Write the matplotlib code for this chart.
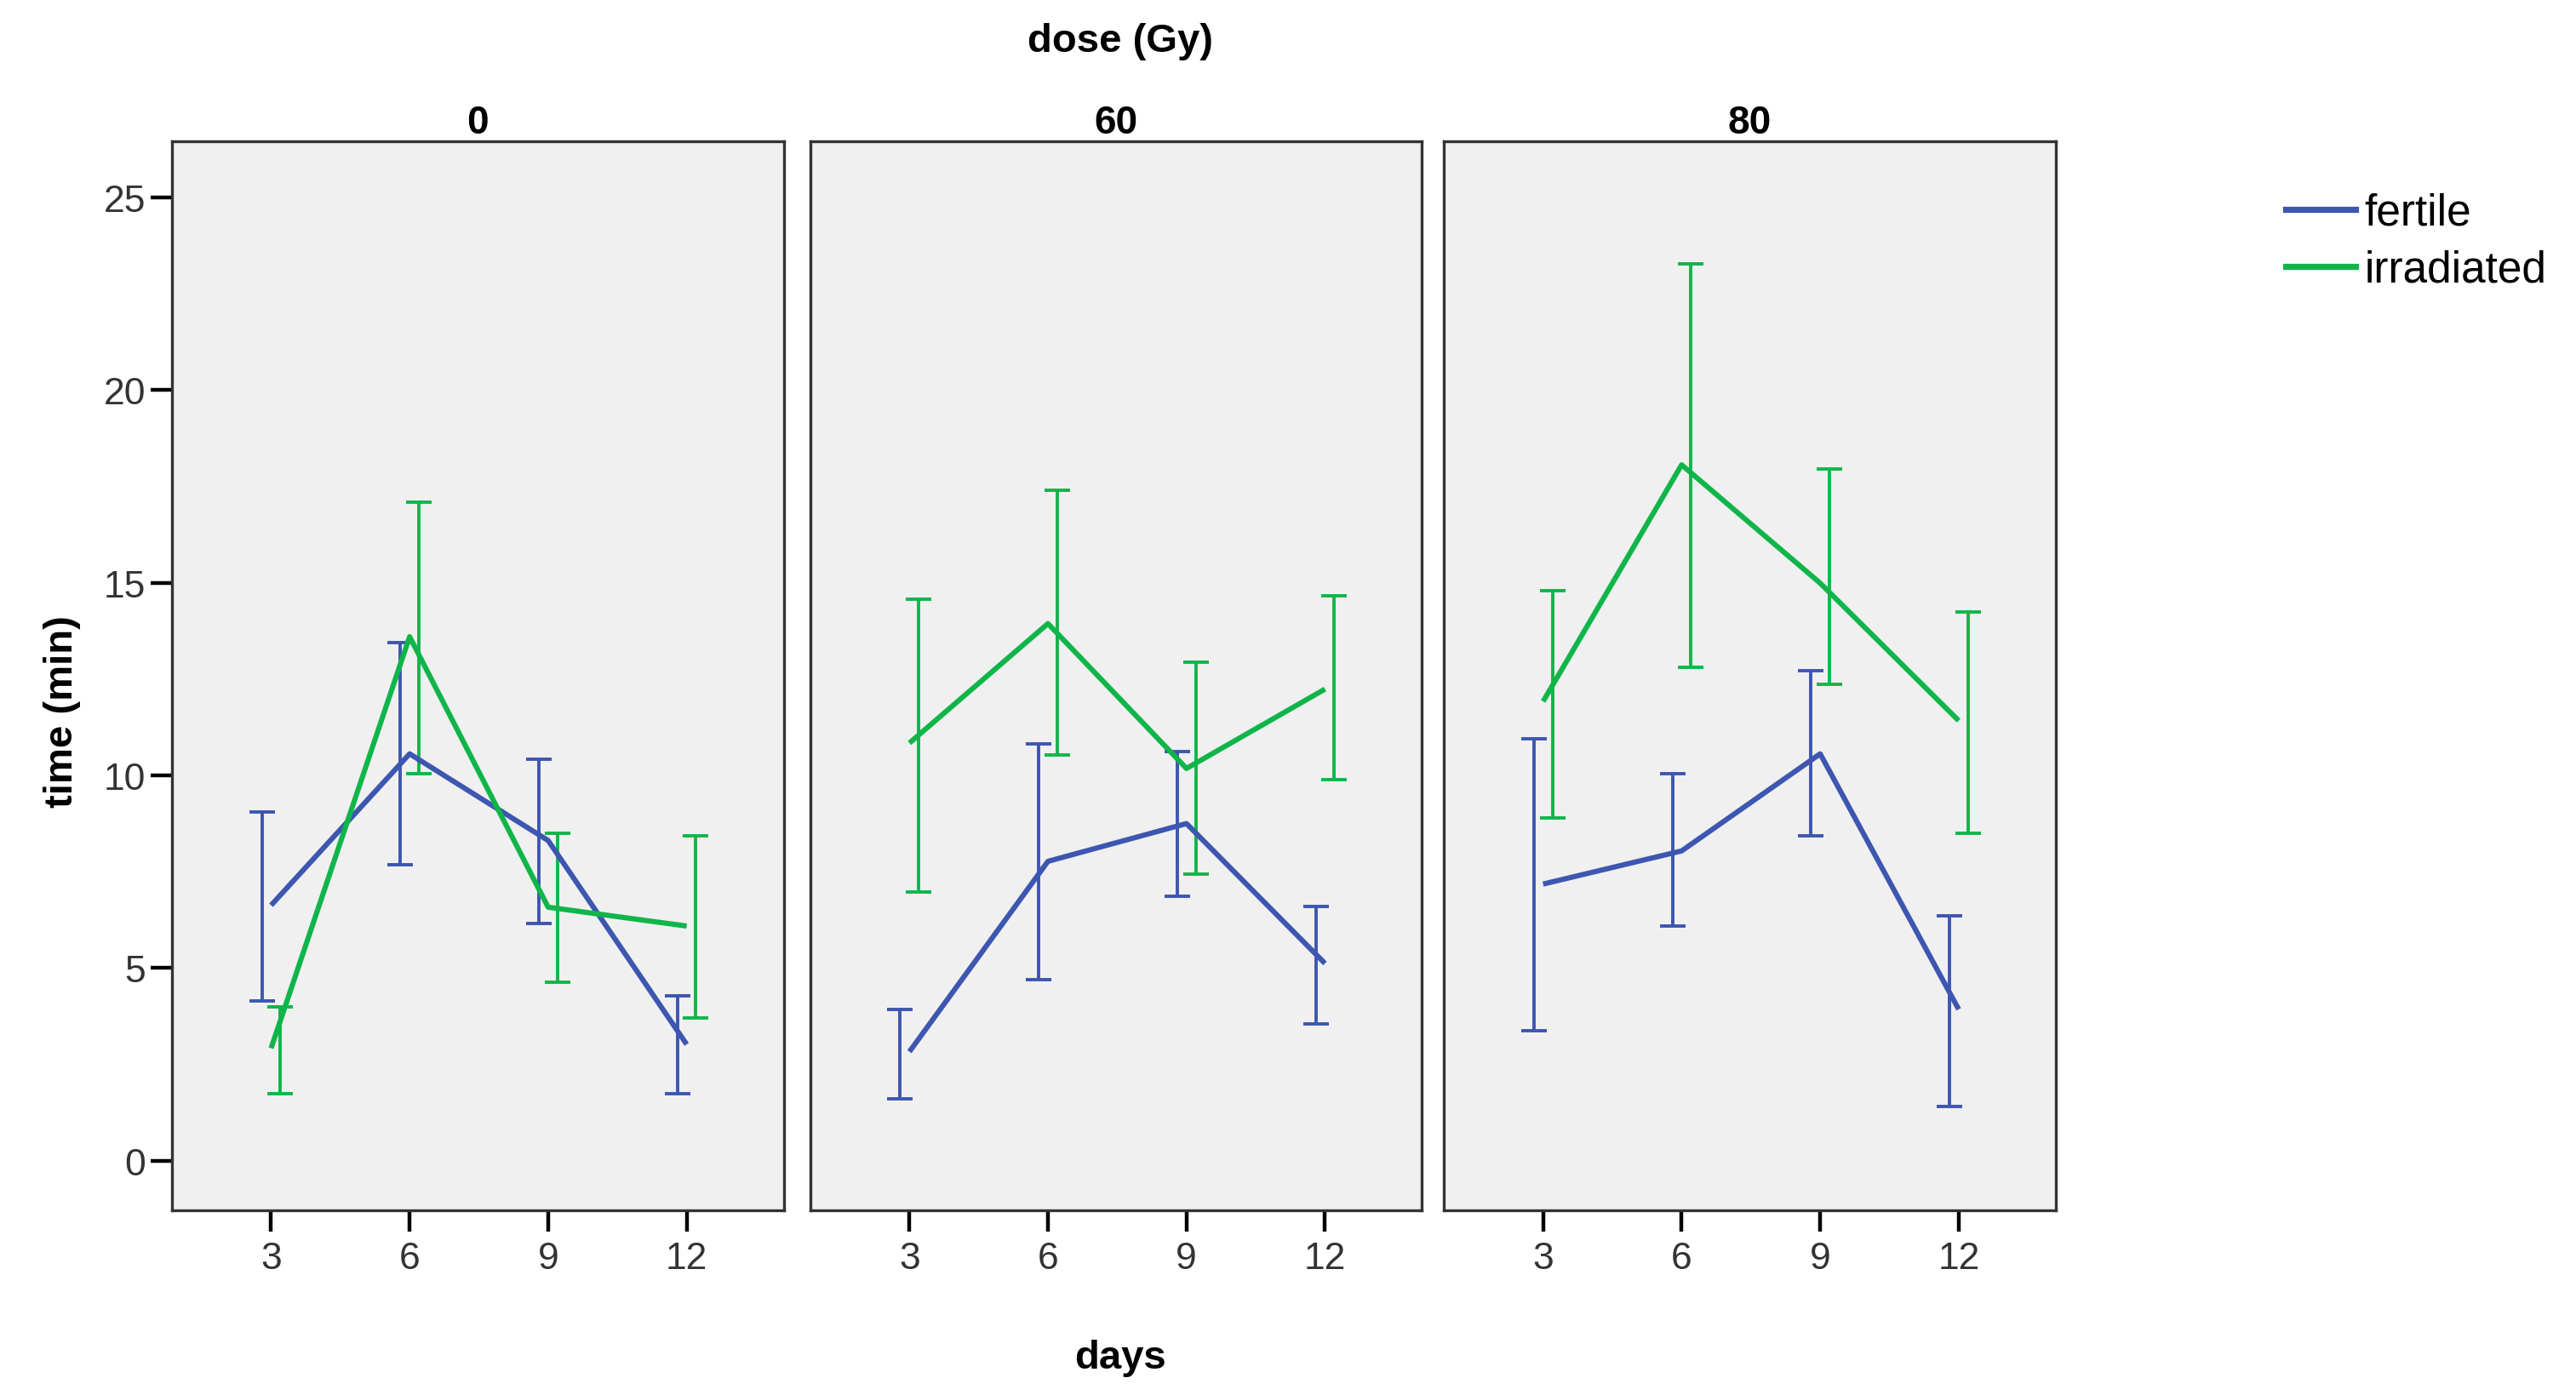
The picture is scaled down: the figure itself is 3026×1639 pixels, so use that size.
import matplotlib
matplotlib.use("Agg")
import matplotlib.pyplot as plt
import numpy as np

plt.rcParams['font.family'] = ['Liberation Sans', 'DejaVu Sans']

days = [3, 6, 9, 12]
doses = ["0", "60", "80"]

fertile_mean = [[6.63, 10.56, 8.31, 3.02], [2.83, 7.77, 8.75, 5.12], [7.18, 8.04, 10.56, 3.93]]
fertile_low = [[4.15, 7.68, 6.16, 1.75], [1.61, 4.71, 6.87, 3.56], [3.38, 6.10, 8.44, 1.41]]
fertile_high = [[9.06, 13.45, 10.42, 4.28], [3.93, 10.82, 10.62, 6.60], [10.96, 10.05, 12.72, 6.36]]

irr_mean = [[2.92, 13.60, 6.58, 6.09], [10.84, 13.94, 10.18, 12.24], [11.92, 18.06, 14.99, 11.42]]
irr_low = [[1.75, 10.05, 4.64, 3.71], [6.98, 10.53, 7.44, 9.90], [8.90, 12.81, 12.37, 8.50]]
irr_high = [[4.00, 17.10, 8.50, 8.44], [14.57, 17.40, 12.94, 14.67], [14.80, 23.28, 17.96, 14.24]]

series_names = ["fertile", "irradiated"]
yticks = [0, 5, 10, 15, 20, 25]

BLUE = '#3D56B0'
GREEN = '#10B54A'
TICKC = '#333333'

fig = plt.figure(figsize=(15.13, 8.2), dpi=200)

lefts = [0.0667, 0.3145, 0.5605]
width = 0.2375
bottom = 0.1325
height = 0.7655

axes = []
for i in range(3):
    ax = fig.add_axes([lefts[i], bottom, width, height])
    axes.append(ax)
    ax.set_facecolor('#F0F0F0')
    d = np.array(days, dtype=float)
    for mean, lo, hi, col, off in [
        (fertile_mean[i], fertile_low[i], fertile_high[i], BLUE, -0.2),
        (irr_mean[i], irr_low[i], irr_high[i], GREEN, 0.2),
    ]:
        mean = np.array(mean); lo = np.array(lo); hi = np.array(hi)
        ax.plot(d, mean, color=col, lw=2.2, solid_capstyle='butt', zorder=3)
        ax.errorbar(d + off, (lo + hi) / 2, yerr=[(lo + hi) / 2 - lo, hi - (lo + hi) / 2],
                    fmt='none', ecolor=col, elinewidth=1.4, capsize=5.5, capthick=1.4, zorder=2)
    ax.set_xlim(0.85, 14.1)
    ax.set_ylim(-1.28, 26.45)
    ax.set_xticks(days)
    ax.set_xticklabels([str(v) for v in days], fontsize=16, color=TICKC)
    ax.tick_params(axis='x', length=9, width=1.6, color='black', pad=4)
    if i == 0:
        ax.set_yticks(yticks)
        ax.set_yticklabels([str(v) for v in yticks], fontsize=16, color=TICKC)
        ax.tick_params(axis='y', length=9, width=1.6, color='black', pad=2)
    else:
        ax.set_yticks([])
    for sp in ax.spines.values():
        sp.set_color('#333333')
        sp.set_linewidth(1.2)
    ax.set_title(doses[i], fontsize=16.5, fontweight='bold', pad=3)

fig.text(0.435, 0.970, "dose (Gy)", ha='center', va='center', fontsize=17, fontweight='bold')
fig.text(0.435, 0.027, "days", ha='center', va='center', fontsize=17, fontweight='bold')
fig.text(0.024, 0.49, "time (min)", ha='center', va='center', rotation=90, fontsize=17, fontweight='bold')

from matplotlib.lines import Line2D
handles = [Line2D([], [], color=BLUE, lw=2.6), Line2D([], [], color=GREEN, lw=2.6)]
fig.legend(handles, series_names, loc='upper left', bbox_to_anchor=(0.872, 0.890),
           frameon=False, fontsize=18.5, handlelength=1.6, handletextpad=0.2, labelspacing=0.35)

fig.savefig("out.png", dpi=200)
